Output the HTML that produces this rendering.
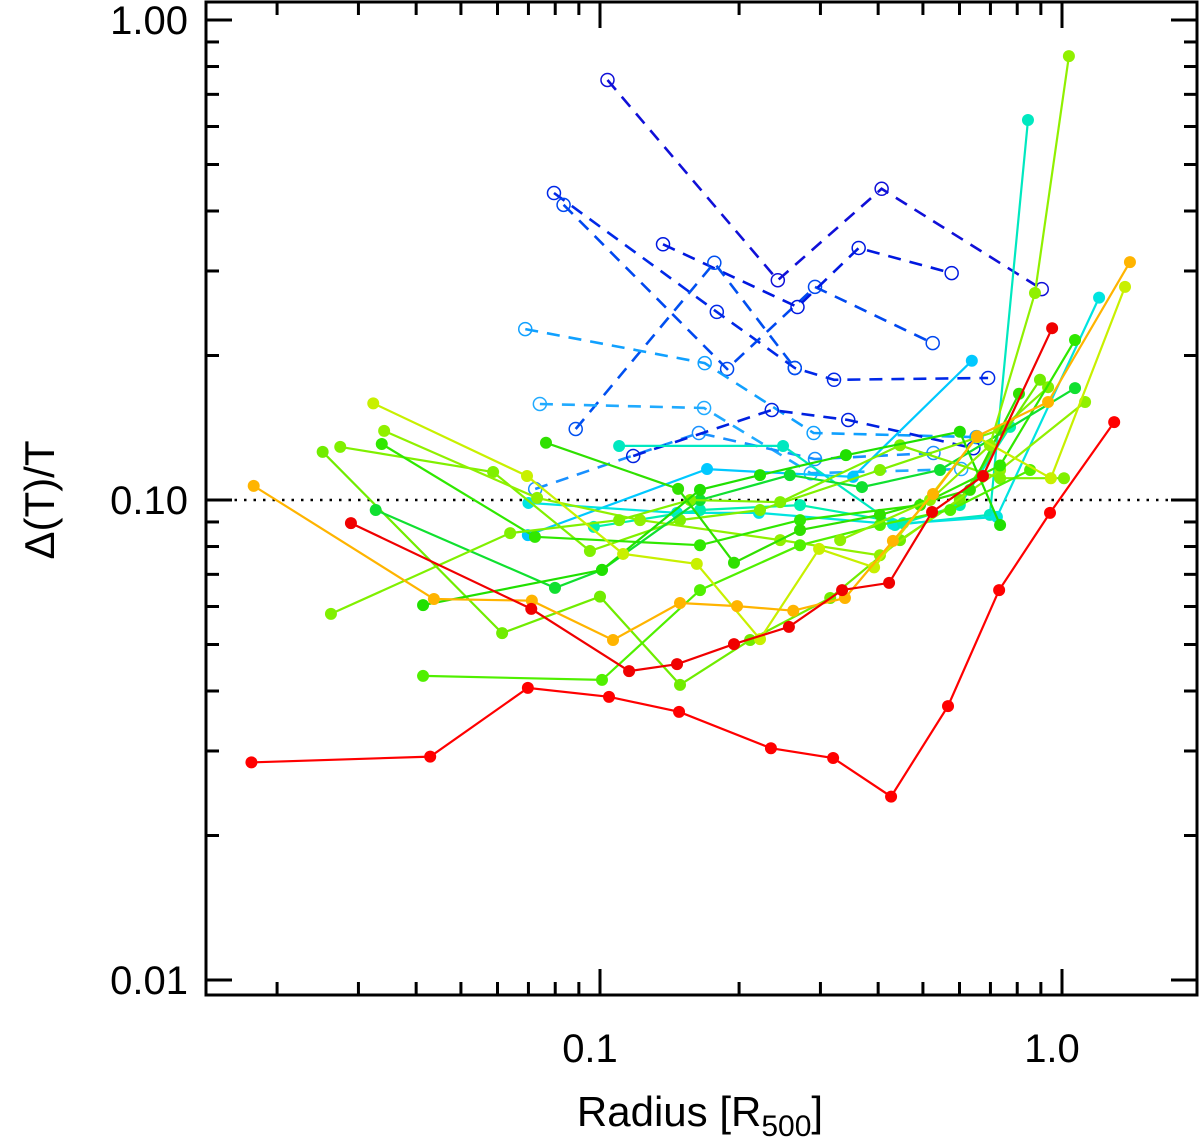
<!DOCTYPE html>
<html><head><meta charset="utf-8"><style>
html,body{margin:0;padding:0;background:#fff;}
svg{display:block;font-family:"Liberation Sans",sans-serif;}
</style></head><body>
<svg id="chart" width="1200" height="1141" viewBox="0 0 1200 1141" xmlns="http://www.w3.org/2000/svg">
<g id="axes"></g>
<g id="series"></g>
<text x="0" y="0" transform="translate(54,500) rotate(-90)" text-anchor="middle" font-size="42">Δ(T)/T</text>
<text x="700" y="1126" text-anchor="middle" font-size="42">Radius [R<tspan font-size="30" dy="10">500</tspan><tspan dy="-10">]</tspan></text>
</svg>
<script>
// ---- data ----
const yTickVals = [0.01, 0.1, 1.0];
const yTickLabels = ["0.01", "0.10", "1.00"];
const xTickVals = [0.1, 1.0];
const xTickLabels = ["0.1", "1.0"];
const refLevel = 0.1;

const r1x = [0.0176,0.0429,0.0698,0.1046,0.1483,0.2344,0.3196,0.4266,0.5666,0.731,0.942,1.297];
const r1y = [0.0284,0.0292,0.0406,0.0389,0.0362,0.0304,0.029,0.0241,0.0372,0.0649,0.094,0.1453];
const r2x = [0.0289,0.071,0.1156,0.1468,0.195,0.2564,0.3342,0.4224,0.5233,0.6745,0.952];
const r2y = [0.0895,0.0593,0.044,0.0455,0.0501,0.0544,0.0649,0.0672,0.0944,0.1122,0.228];
const o1x = [0.0178,0.0437,0.0712,0.1067,0.149,0.198,0.262,0.339,0.4305,0.526,0.655,0.933,1.403];
const o1y = [0.107,0.0622,0.0617,0.0511,0.061,0.0601,0.0588,0.0625,0.0822,0.1029,0.1358,0.16,0.313];
const y1x = [0.0323,0.0695,0.1122,0.162,0.222,0.298,0.392,0.655,0.946,1.369];
const y1y = [0.159,0.1122,0.0772,0.0736,0.0513,0.0791,0.0724,0.1352,0.111,0.278];
const y2x = [0.331,0.518,0.698,0.874,1.035];
const y2y = [0.0825,0.1,0.13,0.27,0.841];
const g1x = [0.0274,0.0587,0.0951,0.149,0.222,0.4036,0.7345,0.933];
const g1y = [0.129,0.1144,0.0783,0.0908,0.0953,0.1155,0.14,0.1718];
const g2x = [0.0251,0.0614,0.1,0.149,0.2113,0.315,0.446,0.601,0.896];
const g2y = [0.126,0.0528,0.0629,0.0412,0.0511,0.0625,0.0825,0.1,0.178];
const g3x = [0.0341,0.0731,0.1221,0.2455,0.4036,0.7345,1.122];
const g3y = [0.1393,0.101,0.0908,0.0825,0.0767,0.1155,0.16];
const g4x = [0.0337,0.0723,0.1646,0.271,0.493,0.7345,1.067];
const g4y = [0.1308,0.0838,0.0805,0.0908,0.0976,0.118,0.2154];
const g5x = [0.0327,0.0799,0.101,0.1646,0.2576,0.369,0.5445,1.067];
const g5y = [0.0953,0.0656,0.0715,0.1,0.1127,0.1064,0.1155,0.171];
const g6x = [0.02616,0.0639,0.11,0.1567,0.2455,0.446,0.7345,1.01];
const g6y = [0.0579,0.0853,0.0908,0.1,0.099,0.13,0.111,0.111];
const g7x = [0.0414,0.101,0.1646,0.222,0.3407,0.601,0.7345];
const g7y = [0.0604,0.0715,0.105,0.1127,0.124,0.1387,0.0887];
const g8x = [0.0414,0.101,0.1646,0.271,0.4036,0.573,0.853];
const g8y = [0.043,0.0422,0.0649,0.0805,0.0887,0.0953,0.1155];
const g9x = [0.0764,0.1476,0.195,0.271,0.4036,0.632,0.807];
const g9y = [0.1316,0.1055,0.074,0.0866,0.0931,0.105,0.1665];
const c1x = [0.11,0.249,0.435,0.698,0.844];
const c1y = [0.1296,0.1296,0.0887,0.0931,0.619];
const c2x = [0.0698,0.1705,0.353,0.638];
const c2y = [0.0845,0.116,0.1117,0.195];
const c3x = [0.07,0.1468,0.2208,0.4305,0.723,1.203];
const c3y = [0.0986,0.094,0.094,0.0891,0.0922,0.264];
const c4x = [0.097,0.1646,0.271,0.453,0.601,0.772];
const c4y = [0.0879,0.0953,0.0976,0.0895,0.0976,0.142];

const d1x = [0.1038,0.2426,0.407,0.904];
const d1y = [0.75,0.287,0.445,0.275];
const d2x = [0.0795,0.179,0.264,0.321,0.692];
const d2y = [0.436,0.2465,0.1884,0.178,0.1795];
const d3x = [0.0834,0.1884,0.292,0.525];
const d3y = [0.412,0.1875,0.278,0.2123];
const d4x = [0.1369,0.2676,0.363,0.577];
const d4y = [0.341,0.2524,0.335,0.297];
const d5x = [0.0886,0.1768,0.264];
const d5y = [0.1406,0.312,0.1884];
const d6x = [0.0689,0.1685,0.29,0.653];
const d6y = [0.227,0.1928,0.1379,0.1352];
const d7x = [0.0741,0.168,0.286,0.605];
const d7y = [0.1585,0.1555,0.1137,0.116];
const d8x = [0.0724,0.1637,0.292,0.527];
const d8y = [0.1054,0.1379,0.1217,0.1253];
const d9x = [0.118,0.2354,0.3446,0.643];
const d9y = [0.1235,0.154,0.1468,0.1282];

// ---- scales ----
const L=206, R=1197, T=2, B=995;
function sx(v){ return 600 + (Math.log10(v)+1)*462; }
function sy(v){ return 980 - (Math.log10(v)+2)*480; }
const NS="http://www.w3.org/2000/svg";
function mk(tag, attrs, parent){
  const e=document.createElementNS(NS,tag);
  for(const k in attrs) e.setAttribute(k, attrs[k]);
  parent.appendChild(e); return e;
}
const axes=document.getElementById('axes');
const sg=document.getElementById('series');

const frame = mk('rect',{x:L,y:T,width:R-L,height:B-T,fill:'none',stroke:'#000','stroke-width':3},axes);



for(let d=-2; d<=0; d++){
  for(let m=1;m<=9;m++){
    const v=m*Math.pow(10,d); if(v>1.0001) break;
    const y=sy(v); if(y<T) continue;
    const len = m===1?26:13;
    const t1=mk('line',{x1:L,x2:L+len,y1:y,y2:y,stroke:'#000','stroke-width':3},axes);
    
    
    const t2=mk('line',{x1:R,x2:R-len,y1:y,y2:y,stroke:'#000','stroke-width':3},axes);
    
    
  }
}
yTickVals.forEach((v,i)=>{
  const t=mk('text',{x:188,y:sy(v)+14,'text-anchor':'end','font-size':40},axes);
  t.textContent=yTickLabels[i];
  
  
});
for(let d=-2; d<=0; d++){
  for(let m=1;m<=9;m++){
    const v=m*Math.pow(10,d); const x=sx(v);
    if(x<=L+1||x>=R-1) continue;
    const len = m===1?26:13;
    const t1=mk('line',{x1:x,x2:x,y1:B,y2:B-len,stroke:'#000','stroke-width':3},axes);
    
    
    const t2=mk('line',{x1:x,x2:x,y1:T,y2:T+len,stroke:'#000','stroke-width':3},axes);
    
    
  }
}
xTickVals.forEach((v,i)=>{
  const t=mk('text',{x:sx(v)-10,y:1062,'text-anchor':'middle','font-size':40},axes);
  t.textContent=xTickLabels[i];
  
  
});
const ref=mk('line',{x1:L,x2:R,y1:sy(refLevel),y2:sy(refLevel),stroke:'#000','stroke-width':2.5,'stroke-dasharray':'2.5,7'},axes);



function drawSeries(xs, ys, color, dashed, name){
  const g=mk('g',{},sg);
  
  
  const pts=xs.map((x,i)=>sx(x).toFixed(1)+','+sy(ys[i]).toFixed(1)).join(' ');
  const pl=mk('polyline',{points:pts,fill:'none',stroke:color,'stroke-width':dashed?2.6:2.2,'stroke-dasharray':dashed?'13,9':'none'},g);
  
  
  xs.forEach((x,i)=>{
    const c=mk('circle',{cx:sx(x),cy:sy(ys[i]),r:dashed?6.5:6,fill:dashed?'none':color,stroke:color,'stroke-width':dashed?1.5:0},g);
    
    
  });
}
drawSeries(d1x,d1y,'#1010d8',true,'dashed-series-1');
drawSeries(d2x,d2y,'#0028e8',true,'dashed-series-2');
drawSeries(d3x,d3y,'#0048f0',true,'dashed-series-3');
drawSeries(d4x,d4y,'#0018e0',true,'dashed-series-4');
drawSeries(d5x,d5y,'#0050f0',true,'dashed-series-5');
drawSeries(d6x,d6y,'#10a0ff',true,'dashed-series-6');
drawSeries(d7x,d7y,'#20aaff',true,'dashed-series-7');
drawSeries(d8x,d8y,'#1890ff',true,'dashed-series-8');
drawSeries(d9x,d9y,'#0020e0',true,'dashed-series-9');

drawSeries(c1x,c1y,'#00e8c0',false,'cyan-series-1');
drawSeries(c2x,c2y,'#00c8ff',false,'cyan-series-2');
drawSeries(c3x,c3y,'#00e4e0',false,'cyan-series-3');
drawSeries(c4x,c4y,'#00f0b0',false,'cyan-series-4');
drawSeries(g1x,g1y,'#80f000',false,'green-series-1');
drawSeries(g2x,g2y,'#70ec00',false,'green-series-2');
drawSeries(g3x,g3y,'#90f000',false,'green-series-3');
drawSeries(g4x,g4y,'#30e800',false,'green-series-4');
drawSeries(g5x,g5y,'#10e030',false,'green-series-5');
drawSeries(g6x,g6y,'#80f000',false,'green-series-6');
drawSeries(g7x,g7y,'#20e000',false,'green-series-7');
drawSeries(g8x,g8y,'#50f000',false,'green-series-8');
drawSeries(g9x,g9y,'#30e000',false,'green-series-9');
drawSeries(y2x,y2y,'#90f000',false,'lime-series');
drawSeries(y1x,y1y,'#c8f000',false,'yellow-series');
drawSeries(o1x,o1y,'#ffb400',false,'orange-series');
drawSeries(r2x,r2y,'#f00000',false,'red-series-2');
drawSeries(r1x,r1y,'#ff0000',false,'red-series-1');
</script>
</body></html>
